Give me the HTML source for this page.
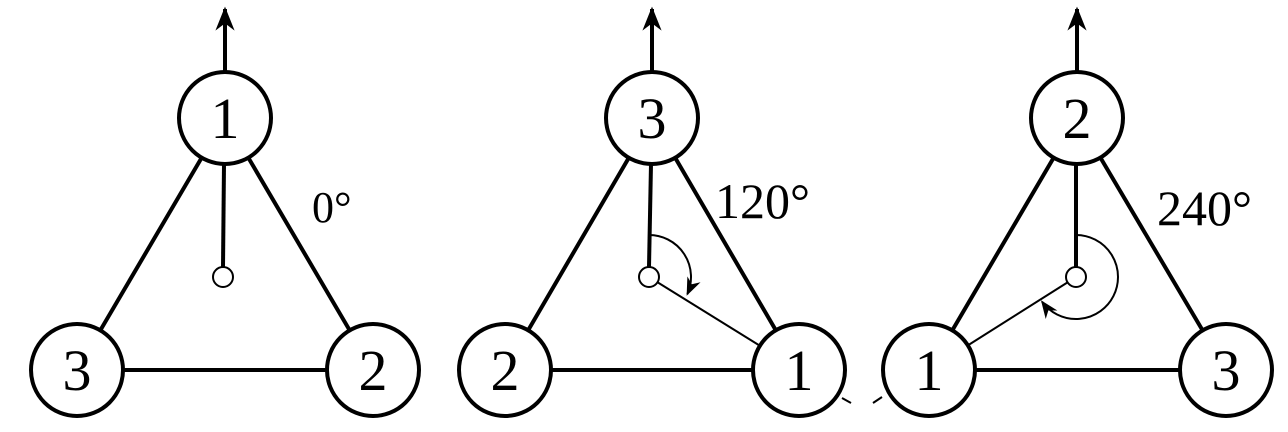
<!DOCTYPE html>
<html><head><meta charset="utf-8"><style>
html,body{margin:0;padding:0;background:#fff;}
svg{display:block;}
svg text{font-family:"Liberation Serif","DejaVu Serif",serif;}
</style></head><body>
<svg width="1288" height="432" viewBox="0 0 1288 432">
<defs>
<marker id="ah" viewBox="0 0 10 10" refX="9" refY="5" markerWidth="6" markerHeight="6" orient="auto"><path d="M0,1 L10,5 L0,9 L3,5 Z" fill="#000"/></marker>
<marker id="ah2" viewBox="0 0 10 10" refX="9" refY="5" markerWidth="9" markerHeight="9" orient="auto"><path d="M0,1 L10,5 L0,9 L3,5 Z" fill="#000"/></marker>
</defs>
<g id="root"></g>
</svg>
<script>
const panelLabels = ["0°","120°","240°"];
const topNums = ["1","3","2"];
const leftNums = ["3","2","1"];
const rightNums = ["2","1","3"];
const angles = [0,120,240];
const tops = [[225,118],[652,118],[1077,118]];
const lefts = [[77,370],[505,370],[929,370]];
const rights = [[373,370],[799,370],[1226,370]];
const centers = [[223,277],[649,277],[1076,277]];
const labelPos = [[312,222,44],[715,218,50],[1157,225,50]];
const NS="http://www.w3.org/2000/svg";
const root=document.getElementById('root');
const FF='"Liberation Serif", "DejaVu Serif", serif';
function mk(t,a,p){const e=document.createElementNS(NS,t);for(const k in a)e.setAttribute(k,a[k]);(p||root).appendChild(e);return e;}
const R=46;
function edge(a,b,w){const dx=b[0]-a[0],dy=b[1]-a[1],L=Math.hypot(dx,dy);
 return mk('line',{x1:a[0]+dx/L*R,y1:a[1]+dy/L*R,x2:b[0]-dx/L*R,y2:b[1]-dy/L*R,stroke:'#000','stroke-width':w});}
function node(c,t,name){const g=mk('g',{});
 
 
 mk('circle',{cx:c[0],cy:c[1],r:R,fill:'#fff',stroke:'#000','stroke-width':4},g);
 const tx=mk('text',{x:c[0],y:c[1]+20,'font-size':58,'text-anchor':'middle','font-family':FF},g);tx.textContent=t;}
for(let i=0;i<3;i++){
 const g=mk('g',{});
 
 
 const T=tops[i],Lf=lefts[i],Rt=rights[i],C=centers[i];
 [edge(T,Lf,4),edge(T,Rt,4),edge(Lf,Rt,4)].forEach(e=>{g.appendChild(e);});
 const ar=mk('line',{x1:T[0],y1:T[1]-R,x2:T[0],y2:9,stroke:'#000','stroke-width':4,'marker-end':'url(#ah)'},g);
 
 
 const st=mk('line',{x1:T[0]-1,y1:T[1]+R,x2:C[0],y2:C[1]-10,stroke:'#000','stroke-width':4},g);
 
 
 const a=angles[i];
 if(a>0){
  const tgt=a===120?Rt:Lf;const dx=tgt[0]-C[0],dy=tgt[1]-C[1],L=Math.hypot(dx,dy);
  const pl=mk('line',{x1:C[0]+dx/L*10,y1:C[1]+dy/L*10,x2:tgt[0]-dx/L*R,y2:tgt[1]-dy/L*R,stroke:'#000','stroke-width':2},g);
  
  
  const r=42,th=(a-6)*Math.PI/180;
  const ex=C[0]+r*Math.sin(th),ey=C[1]-r*Math.cos(th);
  const arc=mk('path',{d:`M${C[0]},${C[1]-r} A${r},${r} 0 ${a>180?1:0} 1 ${ex},${ey}`,fill:'none',stroke:'#000','stroke-width':2,'marker-end':'url(#ah2)'},g);
  
  
 }
 const sc=mk('circle',{cx:C[0],cy:C[1],r:10,fill:'#fff',stroke:'#000','stroke-width':2},g);
 
 
 node(T,topNums[i],'node-top');node(Lf,leftNums[i],'node-left');node(Rt,rightNums[i],'node-right');
 const lp=labelPos[i];
 const lb=mk('text',{x:lp[0],y:lp[1],'font-size':lp[2],'font-family':FF},g);lb.textContent=panelLabels[i];
 
 
}
mk('line',{x1:842,y1:398,x2:851,y2:403,stroke:'#000','stroke-width':2});
mk('line',{x1:873,y1:403,x2:882,y2:397,stroke:'#000','stroke-width':2});
</script>
</body></html>
